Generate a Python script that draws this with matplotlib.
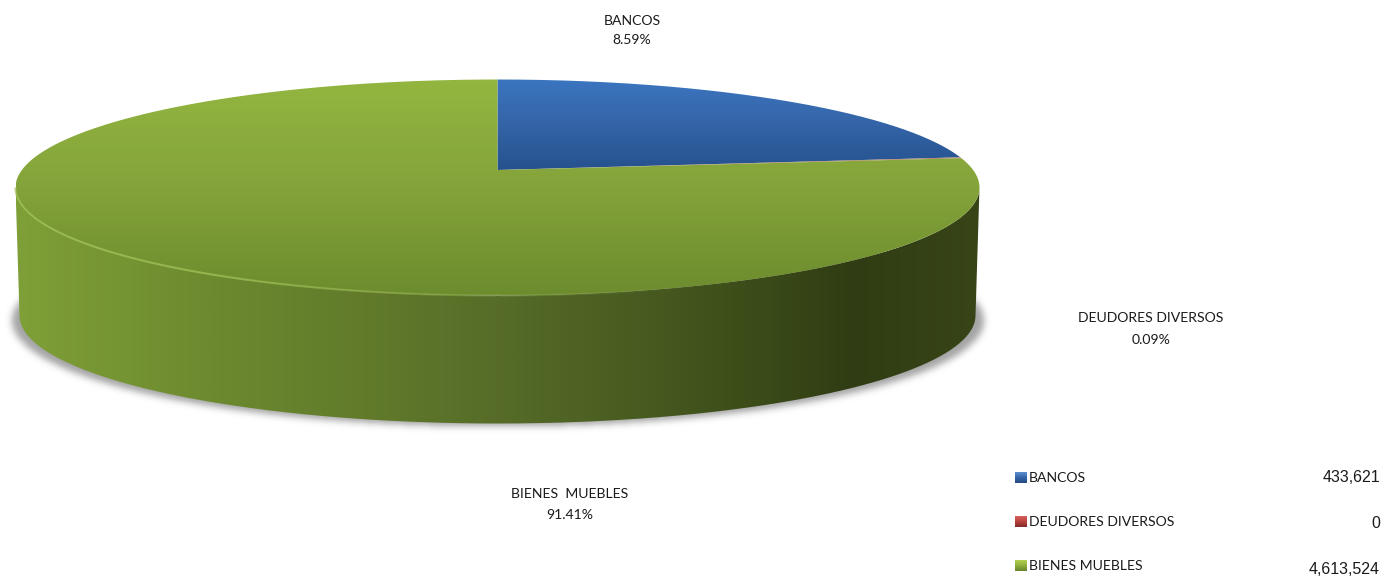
import numpy as np
import matplotlib
matplotlib.use('Agg')
import matplotlib.pyplot as plt
from matplotlib.path import Path
from matplotlib.patches import PathPatch
from matplotlib.collections import LineCollection
from matplotlib.colors import LinearSegmentedColormap, to_rgb

# data
categories = ['BANCOS', 'DEUDORES DIVERSOS', 'BIENES MUEBLES']
slice_labels = ['BANCOS', 'DEUDORES DIVERSOS', 'BIENES  MUEBLES']
percents = [8.59, 0.09, 91.41]
amounts = [433621, 0, 4613524]

W, H = 1384, 577
plt.rcParams['font.family'] = ['Lato', 'DejaVu Sans']

# disc geometry, in pixels
cx, cy, rx, ry = 497.5, 187.5, 482.0, 108.0
apex_y = 170.0
depth = 128.0
rx_low = 478.0
# the original's perspective widens the slices, this exponent reproduces it
warp = 0.6456

fig = plt.figure(figsize=(W / 100, H / 100), dpi=100)
ax = fig.add_axes([0, 0, 1, 1])
ax.axis('off')


def ell(t, rx_=rx, cy_=cy):
    return cx + rx_ * np.sin(t), cy_ - ry * np.cos(t)


def vgrad(stops, extent, clip, horizontal=False, zorder=2):
    cmap = LinearSegmentedColormap.from_list('g', stops)
    g = np.linspace(0, 1, 512)
    g = g.reshape(1, -1) if horizontal else g.reshape(-1, 1)
    im = ax.imshow(g, cmap=cmap, extent=extent, aspect='auto', origin='upper',
                   zorder=zorder, interpolation='bilinear')
    if clip is not None:
        patch = PathPatch(clip, transform=ax.transData, fc='none', ec='none')
        ax.add_patch(patch)
        im.set_clip_path(patch)
    return im


# shadow under the disc, blurred by hand
yy, xx = np.mgrid[0:H, 0:W]
mask = (((xx - cx) / 486.0) ** 2 + ((yy - 320.0) / 106.0) ** 2 <= 1).astype(float)
kernel = np.exp(-np.arange(-12, 13) ** 2 / (2 * 3.5 ** 2))
kernel /= kernel.sum()
mask = np.apply_along_axis(lambda r: np.convolve(r, kernel, mode='same'), 0, mask)
mask = np.apply_along_axis(lambda r: np.convolve(r, kernel, mode='same'), 1, mask)
shadow = np.zeros((H, W, 4))
shadow[..., :3] = 0.35
shadow[..., 3] = mask * 0.55
ax.imshow(shadow, extent=[0, W, H, 0], aspect='auto', zorder=1)

# side wall
t = np.linspace(np.pi / 2, 3 * np.pi / 2, 300)
tx, ty = ell(t)
bx, by = ell(t, rx_low, cy + depth)
side = Path(np.vstack([np.column_stack([tx, ty]),
                       np.column_stack([bx, by])[::-1],
                       [[tx[0], ty[0]]]]))
side_stops = [(0.0, '#7F9F38'), (0.10, '#769533'), (0.20, '#6D8A2F'), (0.35, '#627C2B'),
              (0.50, '#566C28'), (0.65, '#485B20'), (0.78, '#3A4A18'), (0.87, '#303C13'),
              (1.0, '#384517')]
vgrad(side_stops, [cx - rx, cx + rx, H, 0], side, horizontal=True)

# slices, angles come from the percentages
fractions = np.array(percents) / sum(percents)
ends = np.cumsum(fractions)
starts = np.r_[0, ends[:-1]]
angle = lambda f: 2 * np.pi * f ** warp
slice_stops = [
    [(0, '#3B75C0'), (0.45, '#3566A9'), (1, '#26528E')],
    [(0, '#B0705A'), (1, '#A0705A')],
    [(0, '#93B640'), (0.5, '#84A33A'), (1, '#6C8C2E')],
]
for s, e, stops in zip(starts, ends, slice_stops):
    a = np.linspace(angle(s), angle(e), 400)
    ax_, ay_ = ell(a)
    verts = np.vstack([[[cx, apex_y]], np.column_stack([ax_, ay_]), [[cx, apex_y]]])
    # blue fades out by the apex, the other slices use the whole disc
    ymax = apex_y if s == 0 else cy + ry
    vgrad(stops, [cx - rx, cx + rx, ymax, cy - ry], Path(verts), zorder=3)

# light rim along the front of the top face
rim_t = np.linspace(np.pi * 0.5, np.pi * 1.5, 400)[::-1]
rim_x, rim_y = ell(rim_t)
pts = np.column_stack([rim_x, rim_y])
segs = np.stack([pts[:-1], pts[1:]], axis=1)
light = np.array(to_rgb('#A0C055'))
fade = np.clip((700 - pts[:-1, 0]) / 500, 0, 1)
rim_cols = np.column_stack([np.tile(light, (len(segs), 1)), fade * 0.8])
ax.add_collection(LineCollection(segs, colors=rim_cols, linewidths=1.5, zorder=4))

# slice labels
label_pos = [(632, 21, 40), (1151, 318, 340), (570, 494, 515)]
for name, pct, (x, y1, y2) in zip(slice_labels, percents, label_pos):
    ax.text(x, y1, name, ha='center', va='center', fontsize=10.1, color='#1A1A1A', zorder=5)
    ax.text(x, y2, '%.2f%%' % pct, ha='center', va='center', fontsize=10.1, color='#1A1A1A', zorder=5)

# legend table
legend_y = [478, 522, 566]
value_y = [478, 523, 569]
legend_stops = [
    [(0, '#5B8FD0'), (0.5, '#3565A8'), (1, '#234A80')],
    [(0, '#D9605C'), (0.5, '#B8403D'), (1, '#7E2A28')],
    [(0, '#B4D050'), (0.5, '#8FB03C'), (1, '#66822A')],
]
for name, amt, ly, vy, stops in zip(categories, amounts, legend_y, value_y, legend_stops):
    vgrad(stops, [1015, 1027, ly + 5, ly - 6], None, zorder=5)
    ax.text(1029, ly, name, ha='left', va='center', fontsize=10.1, color='#1A1A1A')
    ax.text(1380, vy, format(amt, ','), ha='right', va='center', fontsize=11.5,
            family=['Liberation Sans'], color='#1A1A1A')

ax.set_xlim(0, W)
ax.set_ylim(H, 0)
fig.savefig('out.png', dpi=100, facecolor='white')
